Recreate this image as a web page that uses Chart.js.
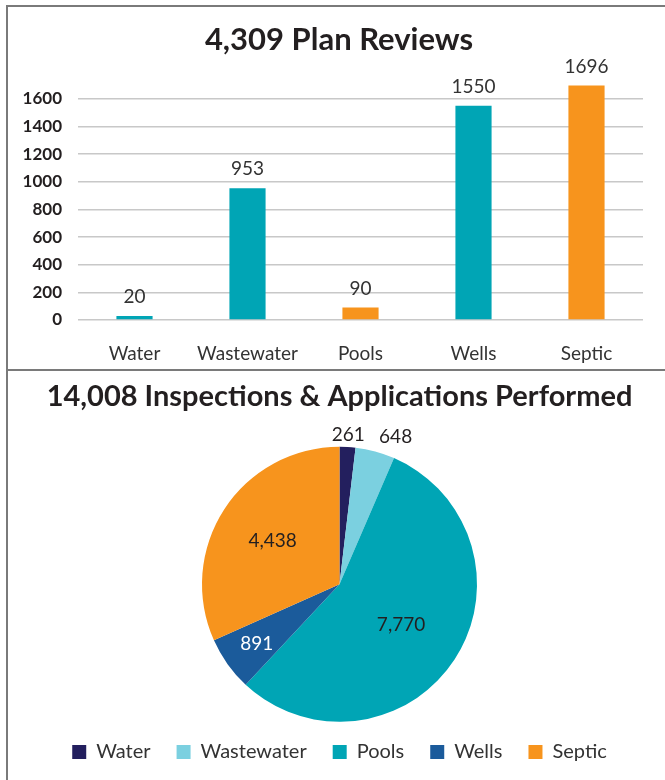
<!DOCTYPE html>
<html>
<head>
<meta charset="utf-8">
<script src="https://cdn.jsdelivr.net/npm/chart.js@4/dist/chart.umd.min.js"></script>
<style>
  body { margin: 0; background: #fff; }
  #wrap { position: relative; width: 665px; height: 780px; overflow: hidden; }
  .line { position: absolute; background: #7a7a7a; }
  #top { position: absolute; left: 0; top: 0; }
  #bottom { position: absolute; left: 0; top: 371px; }
</style>
</head>
<body>
<div id="wrap">
  <canvas id="top" width="665" height="369"></canvas>
  <canvas id="bottom" width="665" height="409"></canvas>
  <div class="line" style="left:6px;top:5px;width:1.5px;height:775px"></div>
  <div class="line" style="left:6px;top:5px;width:659px;height:1.5px"></div>
  <div class="line" style="left:6px;top:369px;width:659px;height:1.5px"></div>
</div>
<script>
  // plan reviews (bar chart)
  const reviewCategories = ['Water', 'Wastewater', 'Pools', 'Wells', 'Septic'];
  const reviewCounts = [20, 953, 90, 1550, 1696];
  const reviewColors = ['#00a5b5', '#00a5b5', '#f7941d', '#00a5b5', '#f7941d'];
  const reviewTicks = [0, 200, 400, 600, 800, 1000, 1200, 1400, 1600];

  // inspections & applications (pie chart)
  const inspCategories = ['Water', 'Wastewater', 'Pools', 'Wells', 'Septic'];
  const inspCounts = [261, 648, 7770, 891, 4438];
  const inspColors = ['#231f5e', '#7bd0e0', '#00a5b5', '#1b5b9b', '#f7941d'];

  const FONT = 'Lato';
  const TEXT = '#231f20';
  Chart.defaults.font.family = FONT;
  Chart.defaults.color = TEXT;

  const barLabels = {
    id: 'barLabels',
    afterDatasetsDraw(chart) {
      const ctx = chart.ctx;
      const meta = chart.getDatasetMeta(0);
      ctx.save();
      ctx.font = '19px ' + FONT;
      ctx.fillStyle = '#333';
      ctx.textAlign = 'center';
      ctx.textBaseline = 'alphabetic';
      meta.data.forEach((bar, i) => {
        ctx.fillText(String(reviewCounts[i]), bar.x, bar.y - 13);
      });
      ctx.restore();
    }
  };

  new Chart(document.getElementById('top'), {
    type: 'bar',
    data: {
      labels: reviewCategories,
      datasets: [{
        data: reviewCounts,
        backgroundColor: reviewColors,
        barPercentage: 0.32,
        categoryPercentage: 1,
        minBarLength: 4
      }]
    },
    options: {
      responsive: false,
      animation: false,
      layout: { padding: { left: 13, right: 0, top: 0, bottom: 0 } },
      plugins: {
        legend: { display: false },
        tooltip: { enabled: false },
        title: {
          display: true,
          text: '4,309 Plan Reviews',
          color: TEXT,
          font: { size: 31, weight: 'bold' },
          padding: { top: 21, bottom: 13 }
        }
      },
      scales: {
        x: {
          grid: { display: false },
          border: { display: false },
          ticks: { font: { size: 19 }, color: '#333', padding: 14 },
          afterFit: s => { s.height = 49; }
        },
        y: {
          min: 0,
          max: 1800,
          afterBuildTicks: s => { s.ticks = reviewTicks.map(v => ({ value: v })); },
          grid: { color: '#c8c8c8', lineWidth: 1.5, drawTicks: false },
          border: { display: false },
          ticks: {
            font: { size: 17, weight: 'bold' },
            color: TEXT,
            padding: 16,
            callback: v => String(v)
          },
          afterFit: s => { s.width = 65; }
        },
        // empty right-hand axis, only keeps the plot clear of the right edge
        yRight: {
          position: 'right',
          grid: { display: false },
          border: { display: false },
          ticks: { display: false },
          afterFit: s => { s.width = 22; }
        }
      }
    },
    plugins: [barLabels]
  });

  const labelRadius = [1.09, 1.11, 0.535, 0.74, 0.58];
  const labelColors = [TEXT, TEXT, TEXT, '#ffffff', TEXT];

  const pieLabels = {
    id: 'pieLabels',
    afterDatasetsDraw(chart) {
      const ctx = chart.ctx;
      const meta = chart.getDatasetMeta(0);
      ctx.save();
      ctx.font = '19px ' + FONT;
      ctx.textBaseline = 'middle';
      meta.data.forEach((arc, i) => {
        const p = arc.getProps(['x', 'y', 'startAngle', 'endAngle', 'outerRadius'], true);
        const mid = (p.startAngle + p.endAngle) / 2;
        const r = p.outerRadius * labelRadius[i];
        const x = p.x + Math.cos(mid) * r;
        const y = p.y + Math.sin(mid) * r;
        const dx = x - p.x;
        ctx.textAlign = labelRadius[i] > 1 && dx > 20 ? 'left' : 'center';
        ctx.fillStyle = labelColors[i];
        ctx.fillText(inspCounts[i].toLocaleString('en-US'), x, y);
      });
      ctx.restore();
    }
  };

  new Chart(document.getElementById('bottom'), {
    type: 'pie',
    data: {
      labels: inspCategories,
      datasets: [{
        data: inspCounts,
        backgroundColor: inspColors,
        borderWidth: 0,
        radius: 137.5,
        clip: false
      }]
    },
    options: {
      responsive: false,
      animation: false,
      layout: { padding: { left: 14, right: 0, top: 0, bottom: 8 } },
      plugins: {
        tooltip: { enabled: false },
        title: {
          display: true,
          text: '14,008 Inspections & Applications Performed',
          color: TEXT,
          font: { size: 29, weight: 'bold' },
          padding: { top: 8.6, bottom: 38.2 }
        },
        legend: {
          position: 'bottom',
          labels: {
            boxWidth: 14,
            boxHeight: 14,
            padding: 26,
            color: '#333',
            font: { size: 20 }
          }
        }
      }
    },
    plugins: [pieLabels]
  });
</script>
</body>
</html>
